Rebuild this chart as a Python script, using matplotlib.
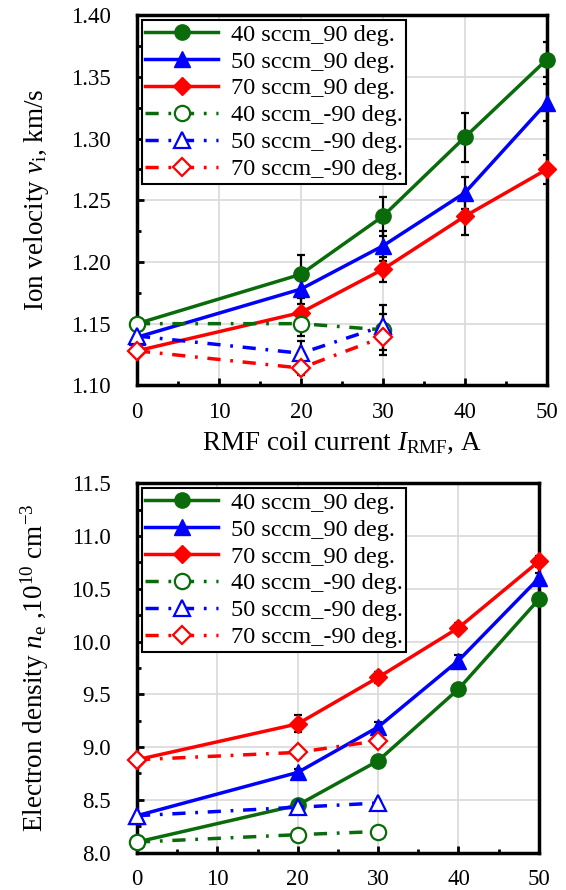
import matplotlib
matplotlib.use('Agg')
import matplotlib.pyplot as plt
from matplotlib.ticker import MultipleLocator
import numpy as np

plt.rcParams['font.family'] = 'Liberation Serif'
plt.rcParams['mathtext.fontset'] = 'custom'
plt.rcParams['mathtext.rm'] = 'Liberation Serif'
plt.rcParams['mathtext.it'] = 'Liberation Serif:italic'

current = [0, 20, 30, 40, 50]
current_neg = [0, 20, 30]

labels = ['40 sccm_90 deg.', '50 sccm_90 deg.', '70 sccm_90 deg.',
          '40 sccm_-90 deg.', '50 sccm_-90 deg.', '70 sccm_-90 deg.']

# ion velocity, km/s
vi_40 = [1.150, 1.190, 1.237, 1.301, 1.364]
vi_50 = [1.139, 1.178, 1.213, 1.256, 1.329]
vi_70 = [1.128, 1.159, 1.194, 1.237, 1.275]
vi_40n = [1.150, 1.150, 1.145]
vi_50n = [1.140, 1.126, 1.148]
vi_70n = [1.128, 1.114, 1.139]
vi_40_err = [0, 0.016, 0.016, 0.020, 0.014]
vi_50_err = [0, 0.012, 0.012, 0.013, 0.015]
vi_70_err = [0, 0.012, 0.010, 0.015, 0.012]
vi_40n_err = [0, 0.010, 0.020]
vi_50n_err = [0, 0.010, 0.010]
vi_70n_err = [0, 0.006, 0.010]

# electron density, 1e10 cm^-3
ne_40 = [8.10, 8.45, 8.87, 9.55, 10.40]
ne_50 = [8.35, 8.76, 9.19, 9.82, 10.60]
ne_70 = [8.88, 9.22, 9.66, 10.13, 10.76]
ne_40n = [8.10, 8.17, 8.20]
ne_50n = [8.35, 8.43, 8.47]
ne_70n = [8.88, 8.95, 9.06]
ne_40_err = [0, 0.02, 0.02, 0.02, 0.02]
ne_50_err = [0, 0.03, 0.05, 0.05, 0.05]
ne_70_err = [0, 0.08, 0.05, 0.05, 0.05]
ne_40n_err = [0, 0.02, 0.02]
ne_50n_err = [0, 0.02, 0.02]
ne_70n_err = [0, 0.05, 0.03]

green, blue, red = '#0a6b0a', '#0000ff', '#ff0000'
dash = (0, (3.8, 2.8, 0.8, 2.8))


def draw(ax, pos, neg, errs, nerrs):
    cols = [green, blue, red]
    mk = ['o', '^', 'D']
    ms = [11, 11, 9]
    # error bars first (black)
    for y, e in zip(pos, errs):
        ax.errorbar(current, y, yerr=e, fmt='none', ecolor='black',
                    elinewidth=1.6, capsize=3, capthick=1.6, zorder=2)
    for y, e in zip(neg, nerrs):
        ax.errorbar(current_neg, y, yerr=e, fmt='none', ecolor='black',
                    elinewidth=1.6, capsize=3, capthick=1.6, zorder=2)
    for i in range(3):
        ax.plot(current, pos[i], color=cols[i], lw=2.5, marker=mk[i],
                ms=ms[i], label=labels[i], zorder=3, clip_on=False)
    for i in range(3):
        ax.plot(current_neg, neg[i], color=cols[i], lw=2.5, ls=dash,
                marker=mk[i], ms=ms[i], mfc='white', mew=1.6,
                label=labels[i + 3], zorder=3, clip_on=False)
    ax.set_xlim(0, 50)
    ax.xaxis.set_major_locator(MultipleLocator(10))
    ax.xaxis.set_minor_locator(MultipleLocator(5))
    ax.grid(True, which='major', color='#d9d9d9', lw=1.2, zorder=0)
    ax.set_axisbelow(True)
    for s in ax.spines.values():
        s.set_linewidth(2.5)
    ax.tick_params(which='both', direction='in', labelsize=16.5, width=2)
    ax.tick_params(axis='x', pad=12)
    ax.tick_params(axis='y', pad=19)
    ax.tick_params(which='major', length=5)
    ax.tick_params(which='minor', length=3)
    leg = ax.legend(loc='upper left', fontsize=17.5, frameon=True,
                    fancybox=False, edgecolor='black', framealpha=1,
                    borderaxespad=0.2, handlelength=3.0, handletextpad=0.5,
                    labelspacing=0.2, borderpad=0.15)
    leg.get_frame().set_linewidth(1.5)


fig = plt.figure(figsize=(5.66, 8.9), dpi=100)
ax1 = fig.add_axes([0.242, 0.567, 0.724, 0.416])
ax2 = fig.add_axes([0.242, 0.042, 0.710, 0.415])

draw(ax1, [vi_40, vi_50, vi_70], [vi_40n, vi_50n, vi_70n],
     [vi_40_err, vi_50_err, vi_70_err], [vi_40n_err, vi_50n_err, vi_70n_err])
ax1.set_ylim(1.10, 1.40)
ax1.yaxis.set_major_locator(MultipleLocator(0.05))
ax1.yaxis.set_minor_locator(MultipleLocator(0.025))
ax1.yaxis.set_major_formatter('{x:.2f}')
ax1.set_ylabel(r'Ion velocity $v_\mathrm{i}$, km/s', fontsize=19.5, labelpad=14)
ax1.set_xlabel(r'RMF coil current $I_\mathrm{RMF}$, A', fontsize=19.5, labelpad=5)

draw(ax2, [ne_40, ne_50, ne_70], [ne_40n, ne_50n, ne_70n],
     [ne_40_err, ne_50_err, ne_70_err], [ne_40n_err, ne_50n_err, ne_70n_err])
ax2.set_ylim(8.0, 11.5)
ax2.yaxis.set_major_locator(MultipleLocator(0.5))
ax2.yaxis.set_minor_locator(MultipleLocator(0.25))
ax2.yaxis.set_major_formatter('{x:.1f}')
ax2.set_ylabel(r'Electron density $n_\mathrm{e}$ ,10$^{10}$ cm$^{-3}$',
               fontsize=19.5, labelpad=14)

fig.savefig('out.png', dpi=100)
